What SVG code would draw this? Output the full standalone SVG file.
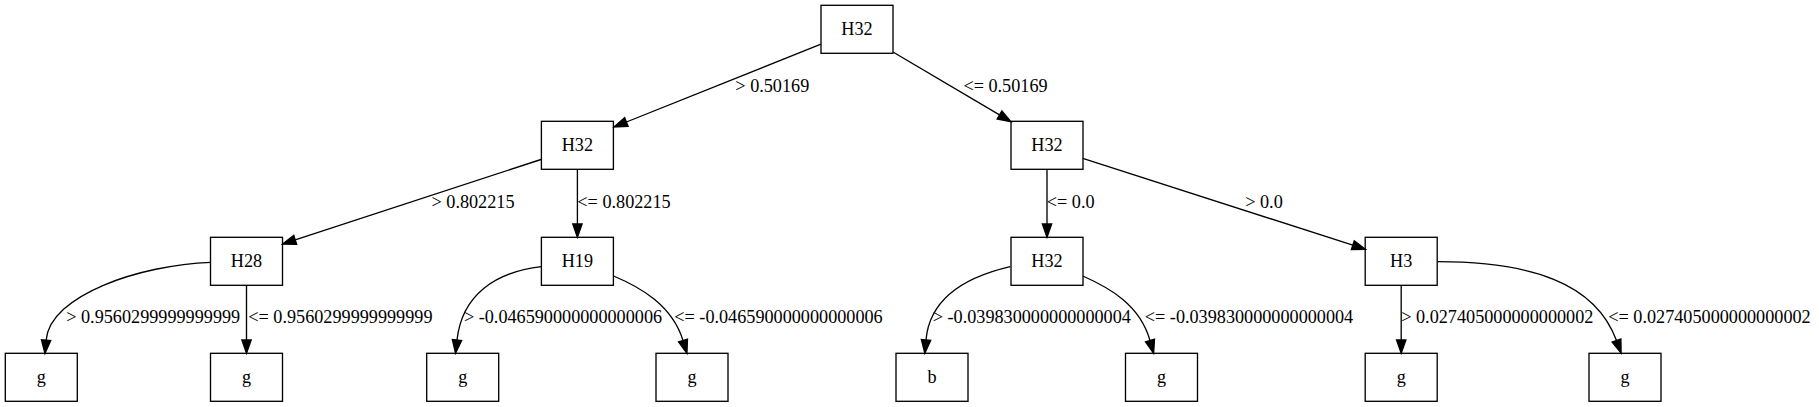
<svg xmlns="http://www.w3.org/2000/svg" width="1819" height="407" viewBox="0 0 1819 407">
<style>
.node rect{fill:none;stroke:#000;stroke-width:1.33}
text{font-family:"Liberation Serif","Times New Roman",serif;font-size:18.2px;fill:#000}
.node text{text-anchor:middle}
.edges path{fill:none;stroke:#000;stroke-width:1.33}
.edges text{text-anchor:middle}
</style>
<defs>
<marker id="ah" markerUnits="userSpaceOnUse" markerWidth="15" markerHeight="10" refX="0" refY="4.67" orient="auto" overflow="visible">
<path d="M0,0 L13.33,4.67 L0,9.33 Z" fill="#000" stroke="#000" stroke-width="1.33"/>
</marker>
</defs>
<rect width="1819" height="407" fill="#fff"/>
<g class="edges">
<path d="M821,44.2 L626.4,122" marker-end="url(#ah)"/>
<text x="772.3" y="91.5">&gt; 0.50169</text>
<path d="M893.4,52.3 L999.5,114.9" marker-end="url(#ah)"/>
<text x="1005.5" y="91.5">&lt;= 0.50169</text>
<path d="M541,159.5 L295.2,239.9" marker-end="url(#ah)"/>
<text x="473" y="207.5">&gt; 0.802215</text>
<path d="M577.4,169.3 L577.4,224" marker-end="url(#ah)"/>
<text x="624" y="207.5">&lt;= 0.802215</text>
<path d="M1047,169.3 L1047,224" marker-end="url(#ah)"/>
<text x="1070.7" y="207.5">&lt;= 0.0</text>
<path d="M1082.8,158.3 L1352.8,245.2" marker-end="url(#ah)"/>
<text x="1264" y="207.5">&gt; 0.0</text>
<path d="M210.7,262.3 C140,265 50,295 46.1,340.2" marker-end="url(#ah)"/>
<text x="153.2" y="323">&gt; 0.9560299999999999</text>
<path d="M246.5,285.3 L246.5,340" marker-end="url(#ah)"/>
<text x="340.4" y="323">&lt;= 0.9560299999999999</text>
<path d="M541.5,266.7 C495,272 462,295 457,340" marker-end="url(#ah)"/>
<text x="563" y="323">&gt; -0.046590000000000006</text>
<path d="M613.5,276 C640,287 672,305 683,340.5" marker-end="url(#ah)"/>
<text x="778.5" y="323">&lt;= -0.046590000000000006</text>
<path d="M1010.3,266.7 C970,276 930,295 926,340" marker-end="url(#ah)"/>
<text x="1031.8" y="323">&gt; -0.039830000000000004</text>
<path d="M1082.8,276 C1110,288 1140,305 1150,340.5" marker-end="url(#ah)"/>
<text x="1249" y="323">&lt;= -0.039830000000000004</text>
<path d="M1401.2,285.3 L1401.2,340" marker-end="url(#ah)"/>
<text x="1497.3" y="323">&gt; 0.027405000000000002</text>
<path d="M1437.5,261.7 C1530,262 1595,282 1616.5,340.5" marker-end="url(#ah)"/>
<text x="1709.5" y="323">&lt;= 0.027405000000000002</text>
</g>
<g id="n0" class="node"><rect x="821" y="5.3" width="72" height="48"/><text x="857" y="34.5">H32</text></g>
<g id="n1" class="node"><rect x="541.4" y="121.3" width="72" height="48"/><text x="577.4" y="150.5">H32</text></g>
<g id="n2" class="node"><rect x="1011" y="121.3" width="72" height="48"/><text x="1047" y="150.5">H32</text></g>
<g id="n3" class="node"><rect x="210.5" y="237.3" width="72" height="48"/><text x="246.5" y="266.5">H28</text></g>
<g id="n4" class="node"><rect x="541.4" y="237.3" width="72" height="48"/><text x="577.4" y="266.5">H19</text></g>
<g id="n5" class="node"><rect x="1011" y="237.3" width="72" height="48"/><text x="1047" y="266.5">H32</text></g>
<g id="n6" class="node"><rect x="1365.2" y="237.3" width="72" height="48"/><text x="1401.2" y="266.5">H3</text></g>
<g id="n7" class="node"><rect x="5.3" y="353.3" width="72" height="48"/><text x="41.3" y="382.5">g</text></g>
<g id="n8" class="node"><rect x="210.5" y="353.3" width="72" height="48"/><text x="246.5" y="382.5">g</text></g>
<g id="n9" class="node"><rect x="426.7" y="353.3" width="72" height="48"/><text x="462.7" y="382.5">g</text></g>
<g id="n10" class="node"><rect x="656" y="353.3" width="72" height="48"/><text x="692" y="382.5">g</text></g>
<g id="n11" class="node"><rect x="896" y="353.3" width="72" height="48"/><text x="932" y="382.5">b</text></g>
<g id="n12" class="node"><rect x="1125.5" y="353.3" width="72" height="48"/><text x="1161.5" y="382.5">g</text></g>
<g id="n13" class="node"><rect x="1365.2" y="353.3" width="72" height="48"/><text x="1401.2" y="382.5">g</text></g>
<g id="n14" class="node"><rect x="1589" y="353.3" width="72" height="48"/><text x="1625" y="382.5">g</text></g>
</svg>
